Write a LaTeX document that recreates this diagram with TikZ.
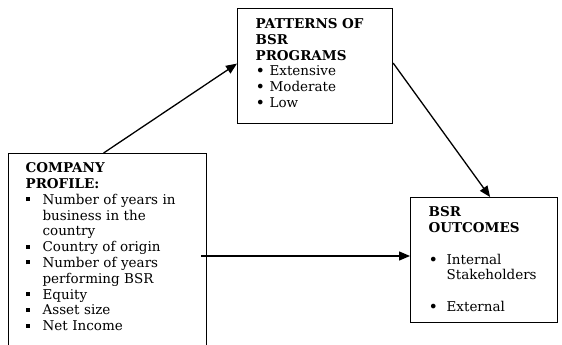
\documentclass[tikz,border=0pt]{standalone}
\usepackage{fontspec}
\setmainfont{DejaVu Serif}
\usetikzlibrary{arrows.meta}

\newcommand{\sqitem}[1]{\makebox[17pt][l]{\rule[3pt]{4pt}{4pt}}#1}
\newcommand{\bigdot}{{\fontsize{16}{0}\selectfont\raisebox{-1pt}[0pt][0pt]{\textbullet}}}
\newcommand{\dotitem}[2][14pt]{\makebox[#1][l]{\bigdot}#2}
\newcommand{\hangline}[2][17pt]{\hspace*{#1}#2}

\begin{document}
\begin{tikzpicture}[
		x=1pt,y=-1pt,
		box/.style={draw,line width=1.2pt,anchor=north west,align=left,
			inner ysep=0pt,inner xsep=17pt,font=\fontsize{13.5}{15.8}\selectfont},
		link/.style={line width=1.3pt,-{Triangle[length=11pt,width=9pt]}}
		]
		\useasboundingbox (0,0) rectangle (562,345);
		
		\node[box,text width=164pt] (company) at (8,153)
		{\rule{0pt}{19pt}\textbf{COMPANY}\\ \textbf{PROFILE:}\\
			\sqitem{Number of years in}\\ \hangline{business in the}\\ \hangline{country}\\
			\sqitem{Country of origin}\\ \sqitem{Number of years}\\ \hangline{performing BSR}\\
			\sqitem{Equity}\\ \sqitem{Asset size}\\ \sqitem{Net Income}\rule[-30pt]{0pt}{30pt}};
		
		\node[box,text width=119pt,inner xsep=18pt] (patterns) at (237,8)
		{\rule{0pt}{20pt}\textbf{PATTERNS OF}\\ \textbf{BSR}\\ \textbf{PROGRAMS}\\
			\dotitem{Extensive}\\ \dotitem{Moderate}\\ \dotitem{Low}\rule[-16pt]{0pt}{16pt}};
		
		\node[box,text width=111pt,inner xsep=18pt] (outcomes) at (410,197)
		{\rule{0pt}{19pt}\textbf{BSR}\\ \textbf{OUTCOMES}\\[15.8pt]
			\dotitem[18pt]{Internal}\\ \hangline[18pt]{Stakeholders}\\[15.8pt]
			\dotitem[18pt]{External}\rule[-11pt]{0pt}{11pt}};
		
		% connectors
		\coordinate (feed) at ([yshift=4pt]outcomes.west);
		\draw[link] ([xshift=-4pt]company.north) -- ([yshift=2.5pt]patterns.west);
		\draw[link] ([yshift=3pt]patterns.east) -- ([xshift=6pt]outcomes.north);
		\draw[link] ([xshift=-6pt]company.east |- feed) -- (feed);
	\end{tikzpicture}
\end{document}
